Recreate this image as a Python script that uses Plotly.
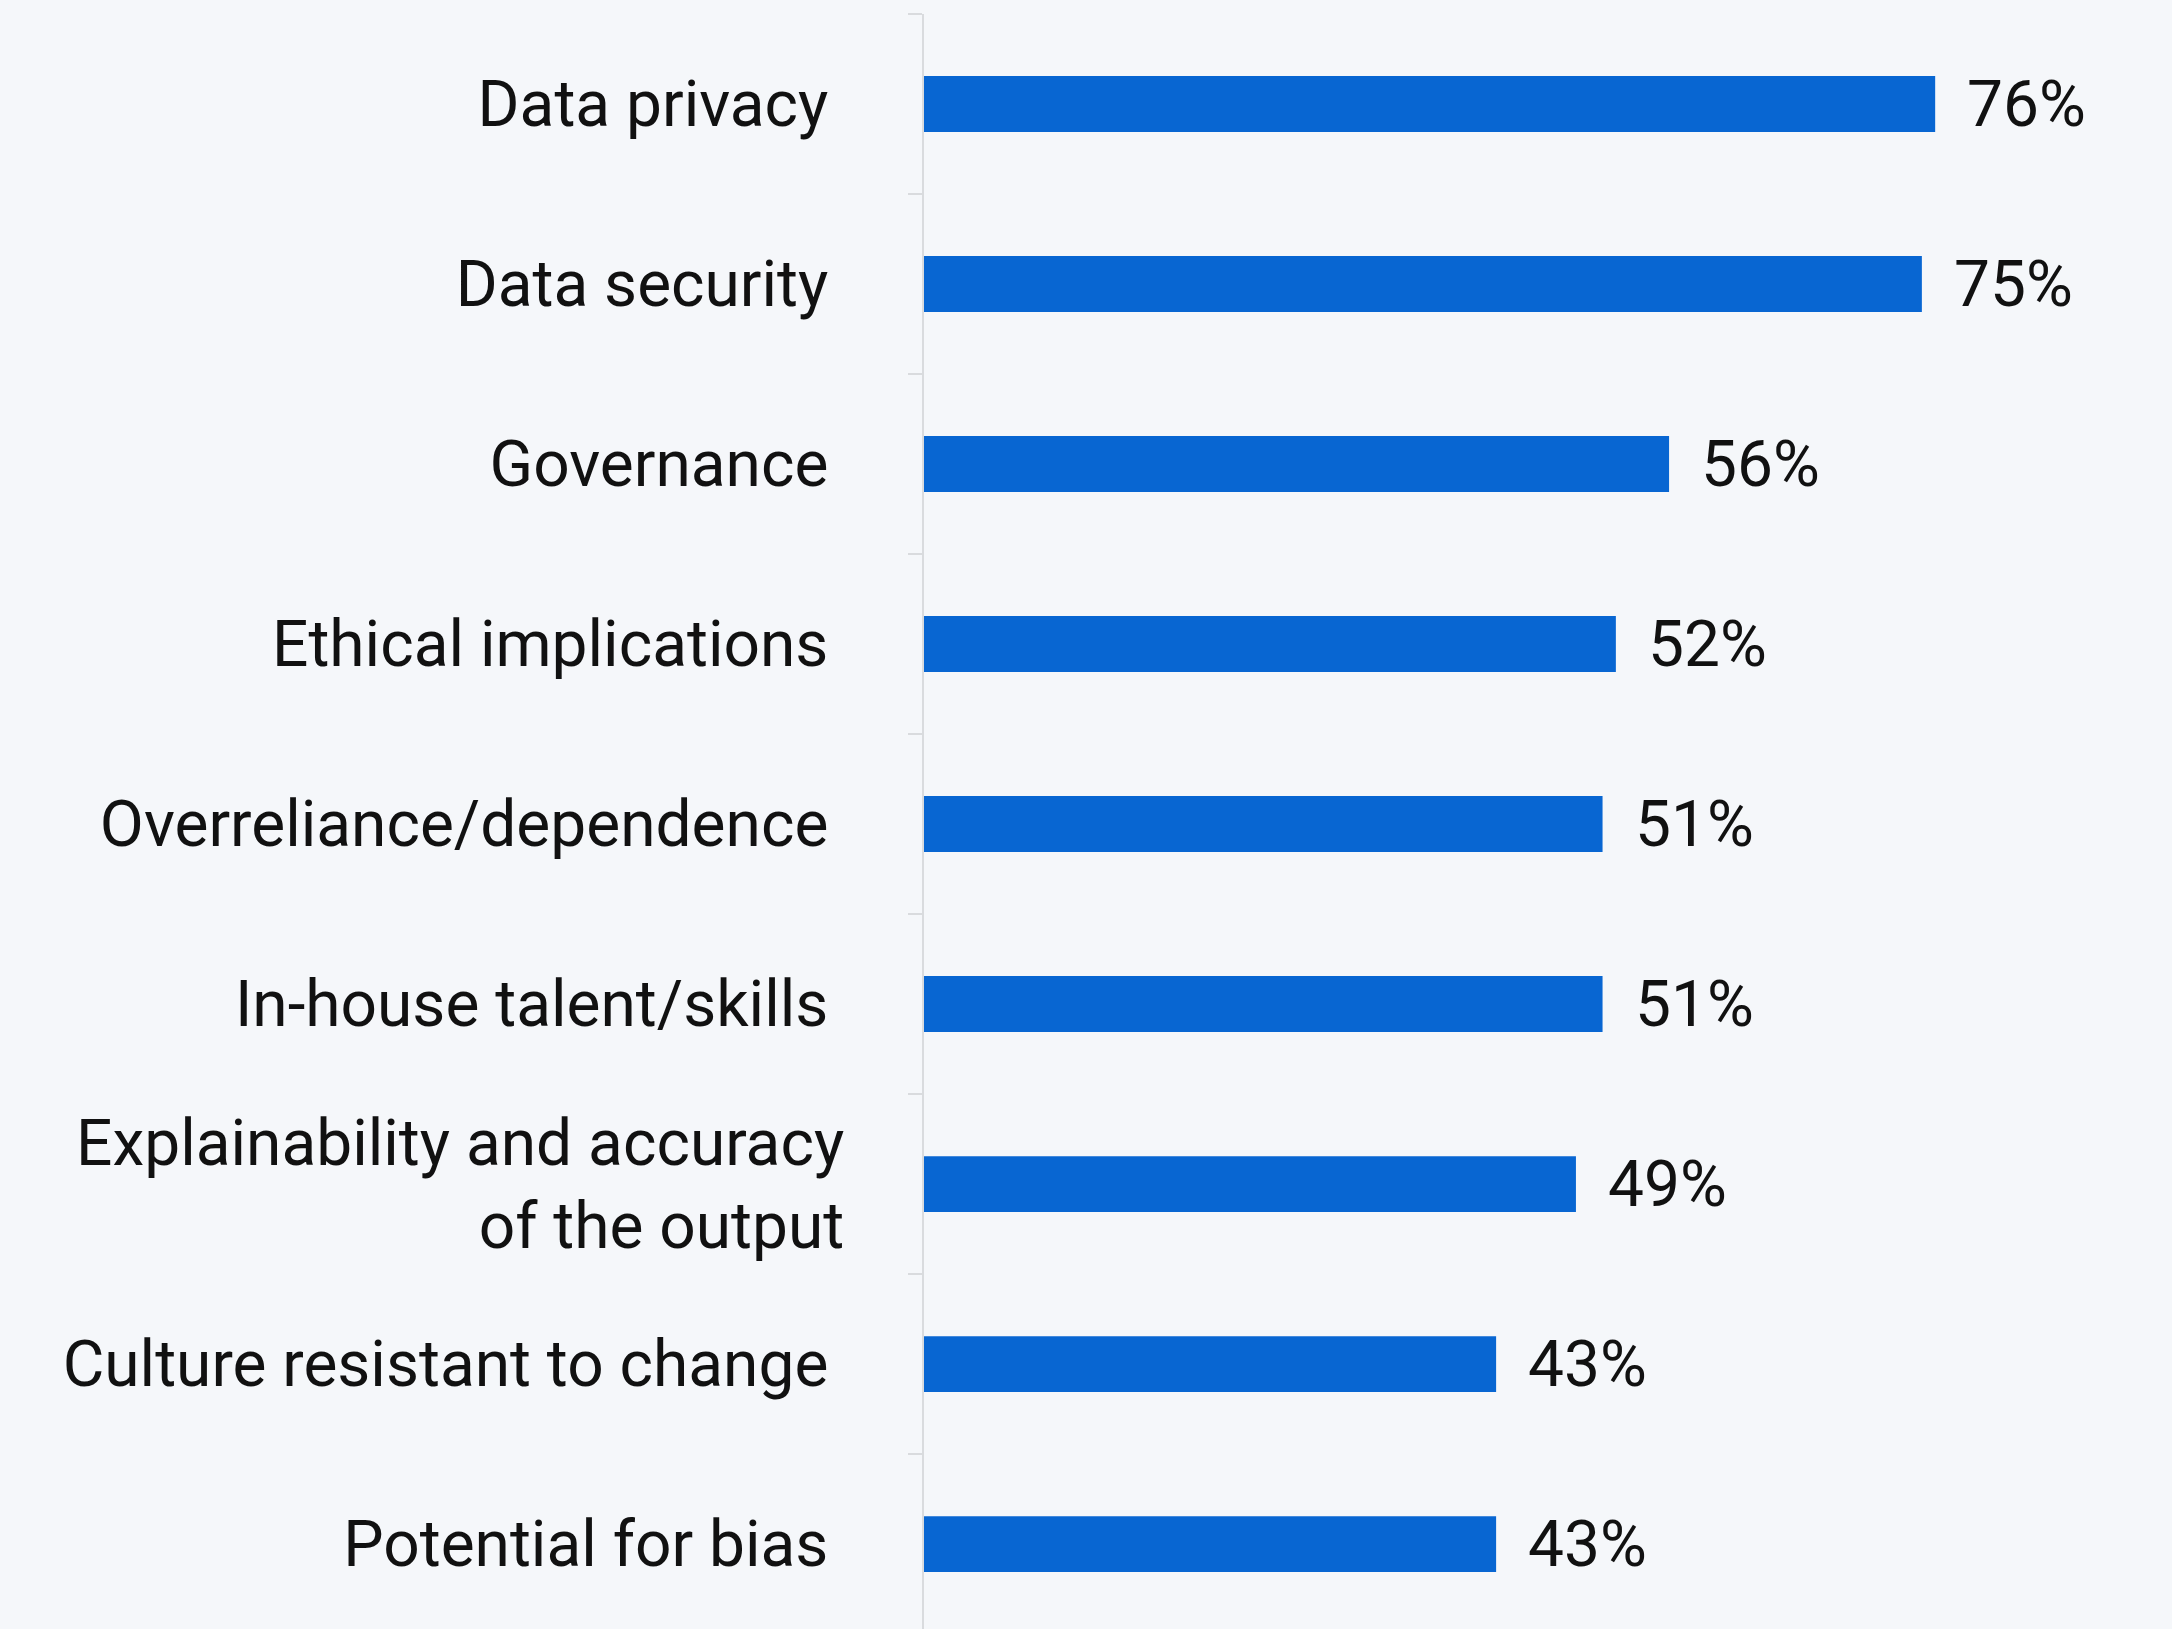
import plotly.graph_objects as go

# Share of respondents citing each concern
categories = [
    "Data privacy",
    "Data security",
    "Governance",
    "Ethical implications",
    "Overreliance/dependence",
    "In-house talent/skills",
    "Explainability and accuracy<br>of the output",
    "Culture resistant to change",
    "Potential for bias",
]
values = [76, 75, 56, 52, 51, 51, 49, 43, 43]
value_labels = ["76%", "75%", "56%", "52%", "51%", "51%", "49%", "43%", "43%"]

BG = "#f5f7fa"
BAR = "#0866d2"
LINE = "#d9dbde"
FONT = "Roboto"

# single-line labels carry a trailing space in the source
tick_text = [c if "<br>" in c else c + "\u00a0" for c in categories]

fig = go.Figure()
fig.add_trace(
    go.Bar(
        x=values,
        y=categories,
        orientation="h",
        marker=dict(color=BAR, line=dict(width=0)),
        width=0.31,
        hoverinfo="skip",
    )
)

for cat, val, lab in zip(categories, values, value_labels):
    fig.add_annotation(
        x=val,
        y=cat,
        text=lab,
        showarrow=False,
        xanchor="left",
        yanchor="middle",
        xshift=30,
        font=dict(family=FONT, size=64, color="#111111"),
    )

fig.update_layout(
    width=2172,
    height=1629,
    margin=dict(l=924, r=0, t=14, b=0),
    paper_bgcolor=BG,
    plot_bgcolor=BG,
    showlegend=False,
    font=dict(family=FONT, size=64, color="#111111"),
)
fig.update_xaxes(visible=False, range=[0, 93.8], showgrid=False, zeroline=False)
fig.update_yaxes(
    type="category",
    categoryorder="array",
    categoryarray=categories,
    tickvals=categories,
    ticktext=tick_text,
    range=[len(categories) - 0.528, -0.5],
    autorange=False,
    showgrid=False,
    zeroline=False,
    showline=True,
    linecolor=LINE,
    linewidth=2,
    ticks="outside",
    tickson="boundaries",
    ticklen=14,
    tickwidth=2,
    tickcolor=LINE,
    ticklabelstandoff=65,
    tickfont=dict(family=FONT, size=64, color="#111111"),
)

# drop the default page margin so the figure sits flush with the window
fig.write_html(
    "out.html",
    config={"displayModeBar": False},
    post_script=f"document.body.style.margin='0';document.body.style.background='{BG}';",
)
